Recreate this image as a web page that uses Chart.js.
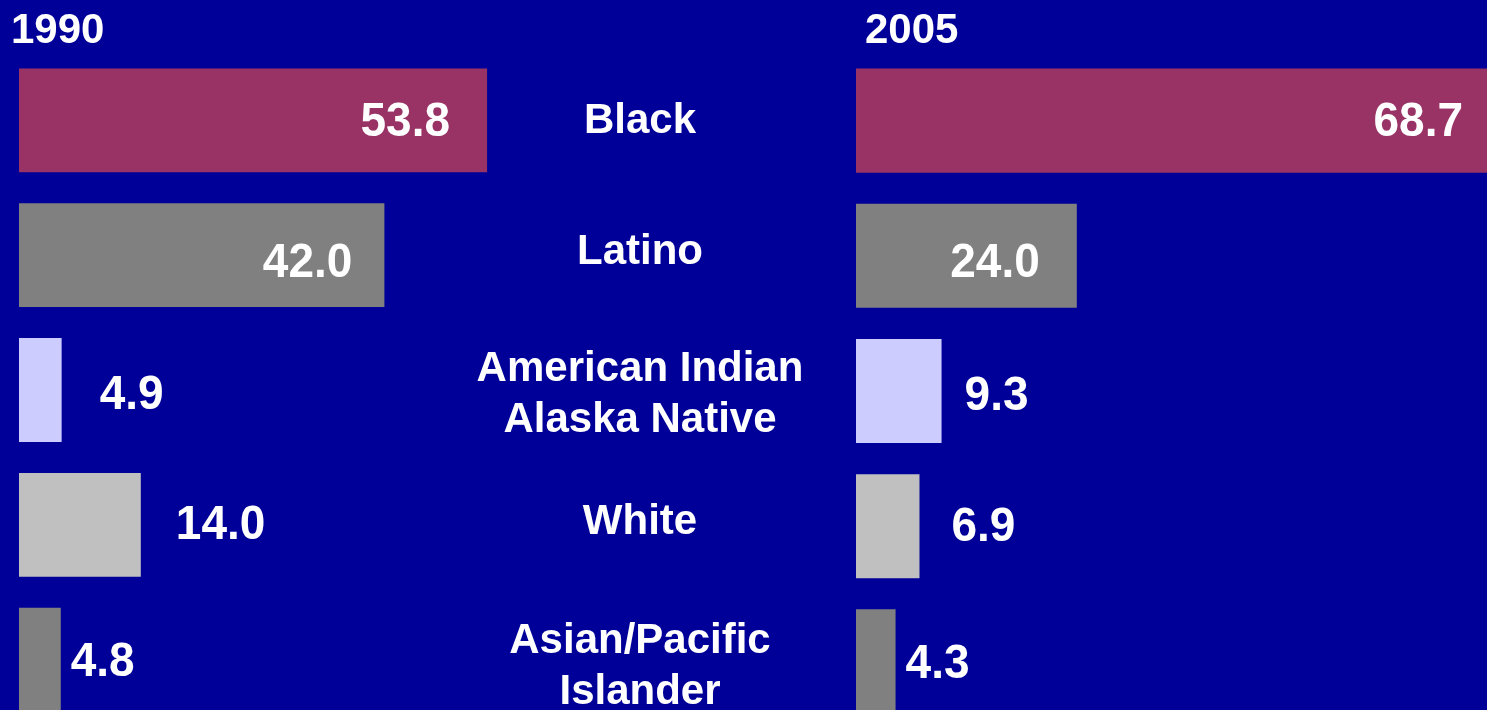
<!DOCTYPE html>
<html>
<head>
<meta charset="utf-8">
<script src="https://cdn.jsdelivr.net/npm/chart.js@4/dist/chart.umd.min.js"></script>
<style>
    html, body { margin: 0; padding: 0; background: #000099; overflow: hidden; width: 1487px; height: 710px; }
    canvas { position: absolute; top: 0; }
    #left { left: 0; }
    #right { left: 856px; }
</style>
</head>
<body>
<canvas id="left" width="856" height="740"></canvas>
<canvas id="right" width="644" height="740"></canvas>
<script>
// data
const categories = ['Black', 'Latino', ['American Indian', 'Alaska Native'], 'White', ['Asian/Pacific', 'Islander']];
const years = ['1990', '2005'];
const values1990 = [53.8, 42.0, 4.9, 14.0, 4.8];
const values2005 = [68.7, 24.0, 9.3, 6.9, 4.3];
const axisMax = 70;

// styles
const barColors = ['#993366', '#808080', '#CCCCFF', '#C0C0C0', '#808080'];
const FONT = '"Liberation Sans", Arial, sans-serif';
// value label offset from bar end (negative = inside, right aligned)
const labelOffsets1990 = [-39, -34, 40, 37, 12];
const labelOffsets2005 = [-27, -39, 25, 34, 12];
const labelDy = [-2, 4, 2, -3, -1];
const catDy = [-2, -6.5, 1, -6, 3.5];

// 값 라벨 + 연도 + 카테고리 그리는 플러그인
const labelPlugin = {
    id: 'labels',
    afterDatasetsDraw(chart, args, opts) {
        const ctx = chart.ctx;
        const meta = chart.getDatasetMeta(0);
        const data = chart.data.datasets[0].data;
        ctx.save();
        ctx.fillStyle = '#ffffff';
        ctx.font = 'bold 46px ' + FONT;
        ctx.textBaseline = 'alphabetic';
        meta.data.forEach((bar, i) => {
            const off = opts.offsets[i];
            const text = data[i].toFixed(1);
            const cy = bar.y + labelDy[i];
            let x;
            if (off < 0) {
                ctx.textAlign = 'right';
                x = bar.x + off + 2;
            } else {
                ctx.textAlign = 'left';
                x = bar.x + off - 2;
            }
            ctx.save();
            ctx.translate(x, cy);
            ctx.scale(1, 1.06);
            ctx.fillText(text, 0, 0.358 * 46);
            ctx.restore();
        });

        // year title
        ctx.textAlign = 'left';
        ctx.font = 'bold 42px ' + FONT;
        ctx.fillText(opts.title, opts.titleX, 43);

        // category labels in the middle
        if (opts.showCategories) {
            const yScale = chart.scales.y;
            ctx.font = 'bold 42px ' + FONT;
            ctx.textAlign = 'center';
            categories.forEach((cat, i) => {
                const lines = Array.isArray(cat) ? cat : [cat];
                const cy = yScale.getPixelForValue(i) + catDy[i];
                const lh = 51;
                const first = cy + 15 - (lines.length - 1) * lh / 2;
                lines.forEach((line, j) => {
                    ctx.fillText(line, 640, first + j * lh);
                });
            });
        }
        ctx.restore();
    }
};

function createChart({ id, values, offsets, title, titleX, showCategories, padding }) {
    const ctx = document.getElementById(id).getContext('2d');
    new Chart(ctx, {
        type: 'bar',
        data: {
            labels: categories.map(c => Array.isArray(c) ? c.join(' ') : c),
            datasets: [
                {
                    label: title,
                    data: values,
                    backgroundColor: barColors,
                    borderWidth: 0,
                    barPercentage: 0.77,
                    categoryPercentage: 1,
                },
            ],
        },
        options: {
            indexAxis: 'y',
            responsive: false,
            animation: false,
            devicePixelRatio: 1,
            layout: { padding: padding },
            plugins: {
                legend: { display: false },
                tooltip: { enabled: false },
                labels: { offsets, title, titleX, showCategories },
            },
            scales: {
                x: { display: false, min: 0, max: axisMax },
                y: { display: false },
            },
        },
        plugins: [labelPlugin],
    });
}

createChart({
    id: 'left', values: values1990, offsets: labelOffsets1990,
    title: years[0], titleX: 11, showCategories: true,
    padding: { left: 19, right: 228, top: 53, bottom: 13 },
});
createChart({
    id: 'right', values: values2005, offsets: labelOffsets2005,
    title: years[1], titleX: 9, showCategories: false,
    padding: { left: 0, right: 0, top: 53, bottom: 11 },
});
</script>
</body>
</html>
